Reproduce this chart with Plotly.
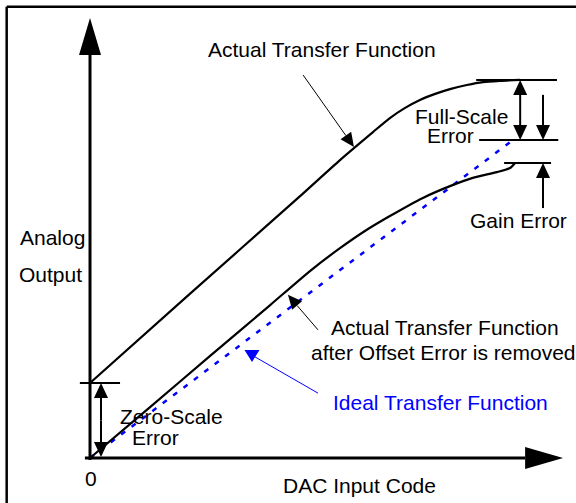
import numpy as np
import plotly.graph_objects as go

# DAC transfer function sketch, input code and output both in % of full scale
ideal_code = [0, 100]
ideal_out = [0, 100]

# actual transfer function (with offset + gain error)
actual_code = [0, 23.6, 49.2, 59.1, 66.9, 70.9, 74.5, 78.0, 81.6, 85.1, 89.1, 92.9, 96.9, 101.7]
actual_out = [23.6, 51.6, 81.8, 93.7, 102.5, 106.9, 110.1, 112.6, 114.5, 116.0, 117.3, 118.2, 118.6, 118.9]

# same function after the offset error is removed
removed_code = [0, 14.2, 28.4, 42.6, 52.0, 59.1, 65.0, 70.9, 78.7, 85.1, 90.5, 96.2, 99.3, 100.5]
removed_out = [0, 16.0, 32.1, 48.1, 58.8, 66.0, 71.4, 76.1, 81.8, 85.5, 88.1, 89.9, 91.2, 92.8]

zero_scale_out = 23.6   # output at code 0
full_scale_out = 118.9  # actual output at full scale
ideal_fs_out = 100.0
gain_end_out = 92.8     # offset-removed output at full scale

W, H = 576, 503
XR = [-21.28, 114.9]
YR = [-14.15, 144.03]
sx = W / (XR[1] - XR[0])   # px per unit
sy = H / (YR[1] - YR[0])

FONT = "Liberation Sans, Arial, sans-serif"
shapes = []


def line(x0, y0, x1, y1, color="black", width=2):
    shapes.append(dict(type="line", x0=x0, y0=y0, x1=x1, y1=y1, xref="x", yref="y",
                       line=dict(color=color, width=width)))


def head(tip, tail, length, width, color="black"):
    # filled triangle, sized in screen pixels, returns centre of its base
    dx = (tip[0] - tail[0]) * sx
    dy = (tip[1] - tail[1]) * sy
    n = np.hypot(dx, dy)
    ux, uy = dx / n, dy / n
    bx, by = tip[0] * sx - ux * length, tip[1] * sy - uy * length
    px, py = -uy * width / 2, ux * width / 2
    pts = [(tip[0] * sx, tip[1] * sy), (bx + px, by + py), (bx - px, by - py)]
    path = "M " + " L ".join(f"{x / sx:.3f},{y / sy:.3f}" for x, y in pts) + " Z"
    shapes.append(dict(type="path", path=path, xref="x", yref="y",
                       fillcolor=color, line=dict(color=color, width=0)))
    return bx / sx, by / sy


def arrow(tail, tip, color="black", lw=2, length=15, width=14):
    b = head(tip, tail, length, width, color)
    line(tail[0], tail[1], b[0], b[1], color, lw)


fig = go.Figure()

fig.add_trace(go.Scatter(x=ideal_code, y=ideal_out, mode="lines",
                         line=dict(color="#0000ff", width=2.5, dash="5px,8px"), hoverinfo="skip"))
fig.add_trace(go.Scatter(x=actual_code, y=actual_out, mode="lines",
                         line=dict(color="black", width=2.2, shape="spline", smoothing=0.6), hoverinfo="skip"))
fig.add_trace(go.Scatter(x=removed_code, y=removed_out, mode="lines",
                         line=dict(color="black", width=2.2, shape="spline", smoothing=0.6), hoverinfo="skip"))

# frame
line(-19.7, YR[0], -19.7, 141.9, width=2.5)
line(-19.7, 141.9, XR[1], 141.9, width=2.5)

# axes with big heads
yb = head((0, 138.4), (0, 0), 37, 22)
line(0, -0.6, 0, yb[1], width=3)
xb = head((111.85, 0), (0, 0), 38, 22)
line(-1.2, 0, xb[0], 0, width=3)

# zero-scale error
line(-2.4, zero_scale_out, 7.1, zero_scale_out)
mid = zero_scale_out / 2
arrow((2.6, mid), (2.6, zero_scale_out))
arrow((2.6, mid), (2.6, 0.3))

# full-scale / gain error
line(91.3, full_scale_out, 110.4, full_scale_out)
line(92.0, ideal_fs_out, 110.7, ideal_fs_out)
line(97.9, gain_end_out, 109.0, gain_end_out)
mid = (full_scale_out + ideal_fs_out) / 2
arrow((101.7, mid), (101.7, full_scale_out))
arrow((101.7, mid), (101.7, ideal_fs_out))
arrow((107.1, 114.2), (107.1, ideal_fs_out))
arrow((107.1, 78.6), (107.1, gain_end_out))

# pointers
arrow((50.4, 120.4), (62.4, 97.8), lw=1, length=14, width=13)
arrow((53.9, 40.3), (46.8, 51.3), lw=1, length=14, width=13)
head((38.3, 30.2), (38.3, 40), 12, 15, "#0000ff")
line(53.9, 20.4, 39.0, 31.8, "#0000ff", 1)

labels = [
    ("Actual Transfer Function", 27.4, 128.6, "left", "black"),
    ("Full-Scale", 76.4, 107.4, "left", "black"),
    ("Error", 79.2, 101.4, "left", "black"),
    ("Gain Error", 89.4, 74.8, "left", "black"),
    ("Actual Transfer Function", 56.5, 40.9, "left", "black"),
    ("after Offset Error is removed", 51.8, 33.3, "left", "black"),
    ("Ideal Transfer Function", 57.0, 17.3, "left", "#0000ff"),
    ("Analog", -17.0, 69.5, "left", "black"),
    ("Output", -17.3, 57.6, "left", "black"),
    ("Zero-Scale", 6.6, 12.9, "left", "black"),
    ("Error", 9.5, 6.6, "left", "black"),
    ("0", 0.2, -6.3, "center", "black"),
    ("DAC Input Code", 63.8, -8.8, "center", "black"),
]
for txt, x, y, anchor, col in labels:
    fig.add_annotation(x=x, y=y, text=txt, showarrow=False, xanchor=anchor, yanchor="middle",
                       font=dict(family=FONT, size=21, color=col))

fig.update_layout(
    width=W, height=H,
    margin=dict(l=0, r=0, t=0, b=0),
    plot_bgcolor="white", paper_bgcolor="white",
    showlegend=False,
    xaxis=dict(range=XR, visible=False, fixedrange=True),
    yaxis=dict(range=YR, visible=False, fixedrange=True),
    shapes=shapes,
)

# page body has a default 8px margin; drop it so the figure sits at 0,0
fig.write_html("out.html", config={"displayModeBar": False},
               post_script="document.body.style.margin='0';")
